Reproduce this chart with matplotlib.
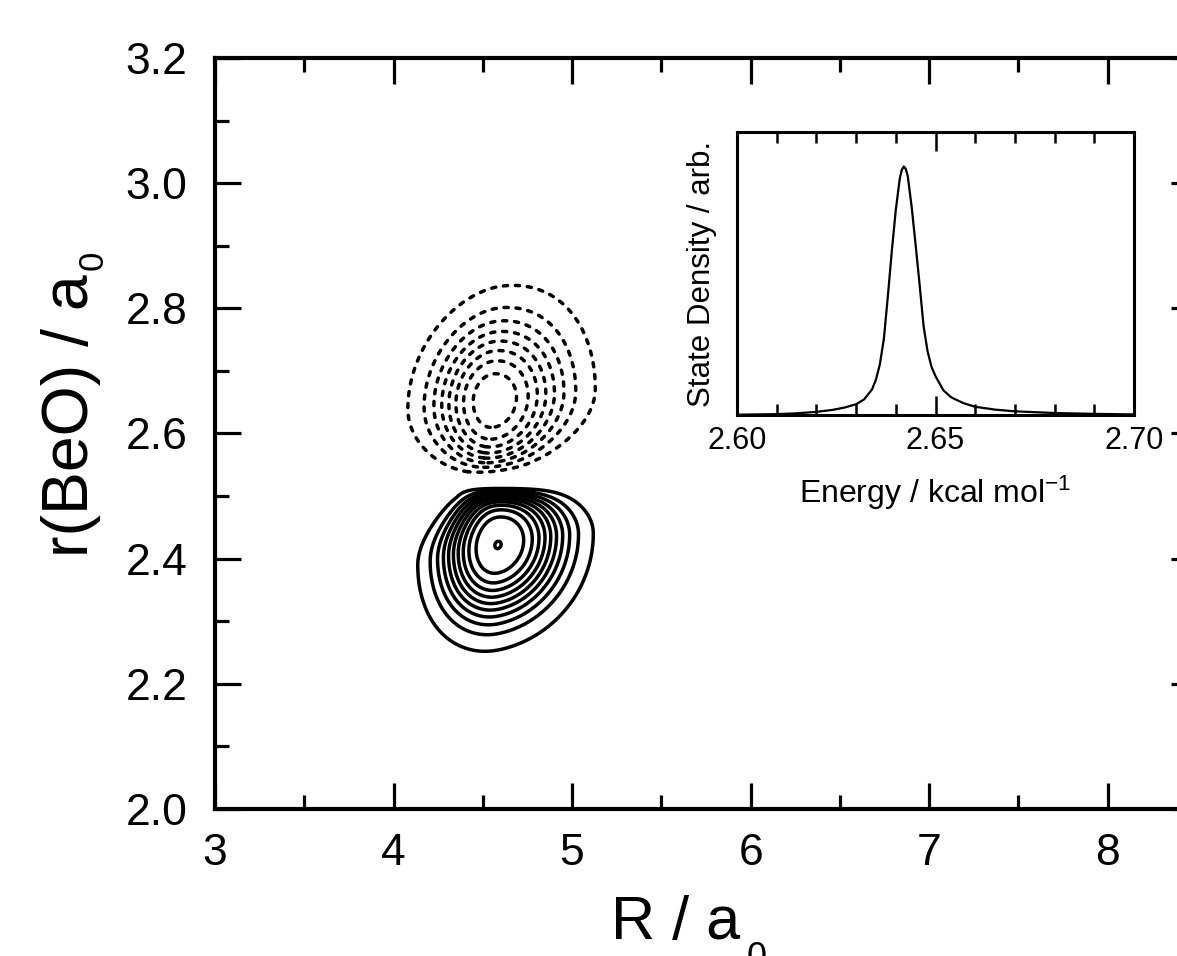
import numpy as np
import matplotlib
matplotlib.use("Agg")
import matplotlib.pyplot as plt
from matplotlib.ticker import MultipleLocator, FormatStrFormatter

plt.rcParams['font.family'] = ['Liberation Sans', 'DejaVu Sans']
plt.rcParams['mathtext.default'] = 'regular'
plt.rcParams['lines.scale_dashes'] = False

# state density of the resonance (inset)
energy = [2.600, 2.605, 2.610, 2.615, 2.620, 2.624, 2.627, 2.630, 2.632, 2.634,
          2.635, 2.636, 2.637, 2.638, 2.639, 2.640, 2.641, 2.6415, 2.642, 2.6425,
          2.643, 2.644, 2.645, 2.646, 2.647, 2.648, 2.649, 2.650, 2.652, 2.654,
          2.657, 2.660, 2.665, 2.670, 2.680, 2.690, 2.700]
density = [0.001, 0.002, 0.003, 0.006, 0.011, 0.018, 0.026, 0.038, 0.055, 0.090,
           0.125, 0.180, 0.270, 0.420, 0.580, 0.725, 0.835, 0.866, 0.878, 0.870,
           0.845, 0.735, 0.600, 0.460, 0.314, 0.225, 0.170, 0.137, 0.087, 0.062,
           0.042, 0.029, 0.019, 0.013, 0.007, 0.004, 0.002]

# wavefunction lobes: centre R, centre r, amplitude, widths (left, right, down, up),
# tilt, bend, taper towards node (up, down), shear of the upper half, profile power
pos_lobe = [4.584, 2.423, 0.991, 0.2255, 0.269, 0.085, 0.090, 0.055, -0.042, 0.35, 0.0, 0.0, 2.6]
neg_lobe = [4.556, 2.653, 0.78, 0.227, 0.274, 0.1025, 0.0863, 0.03, 0.0, 0.0, 0.30, 0.16, 2.3]
pos_node = [2.514, 0.0, 0.0]     # r = a + b (R - 4.55) + c (R - 4.55)^2
neg_node = [2.535, 0.03, 0.08]
pos_width = 0.022
neg_width = 0.035

pos_levels = [0.05, 0.144, 0.238, 0.332, 0.426, 0.52, 0.614, 0.708, 0.802, 0.896, 0.99]
neg_levels = [-0.708, -0.614, -0.52, -0.426, -0.332, -0.238, -0.144, -0.05]


def lobe(R, r, R0, r0, amp, sl, sr, sd, su, tilt, bend, tap_up, tap_dn, shear, p):
    dR = R - R0
    dr = r - r0 - tilt * dR - bend * dR ** 2
    dR = dR - shear * su * np.clip(dr / su, 0, None) ** 2
    sx = np.where(dR < 0, sl, sr)
    # lobe gets narrower on the side facing the node
    sx = sx * (1 - np.where(dr > 0, tap_up * np.clip(dr / su, 0, 1) ** 2,
                            tap_dn * np.clip(-dr / sd, 0, 1) ** 2))
    sy = np.where(dr < 0, sd, su)
    rho = np.sqrt((dR / sx) ** 2 + (dr / sy) ** 2)
    return amp * np.exp(-0.5 * rho ** p)


def node_line(R, a, b, c):
    return a + b * (R - 4.55) + c * (R - 4.55) ** 2


Rg, rg = np.meshgrid(np.linspace(3.7, 5.7, 900), np.linspace(2.12, 2.98, 900))
psi_pos = lobe(Rg, rg, *pos_lobe) * np.clip(
    np.tanh((node_line(Rg, *pos_node) - rg) / pos_width), 0, None)
psi_neg = lobe(Rg, rg, *neg_lobe) * np.clip(
    np.tanh((rg - node_line(Rg, *neg_node)) / neg_width), 0, None)
psi = psi_pos - psi_neg

fig = plt.figure(figsize=(11.77, 9.56), dpi=100)
ax = fig.add_axes([0.18267, 0.15377, 0.83432, 0.78556])

ax.contour(Rg, rg, psi, levels=pos_levels, colors='black', linewidths=2.5,
           linestyles='solid')
cs = ax.contour(Rg, rg, psi, levels=neg_levels, colors='black', linewidths=2.5)
cs.set_linestyle((0, (3.0, 5.6)))
cs.set_capstyle('round')

ax.set_xlim(3, 8.5)
ax.set_ylim(2.0, 3.2)
ax.xaxis.set_major_locator(MultipleLocator(1))
ax.xaxis.set_minor_locator(MultipleLocator(0.5))
ax.yaxis.set_major_locator(MultipleLocator(0.2))
ax.yaxis.set_minor_locator(MultipleLocator(0.1))
ax.yaxis.set_major_formatter(FormatStrFormatter('%.1f'))
ax.tick_params(which='both', direction='in', top=True, right=True, width=2.3,
               labelsize=32)
ax.tick_params(which='major', length=19)
ax.tick_params(which='minor', length=10)
ax.tick_params(axis='y', pad=20)
ax.tick_params(axis='x', pad=17)
for sp in ax.spines.values():
    sp.set_linewidth(3.0)

# axis labels with a low, separately sized subscript
ax.set_xlabel('R / a', fontsize=44)
ax.xaxis.set_label_coords(0.403, -0.1731)
ax.xaxis.label.set_ha('left')
ax.xaxis.label.set_va('baseline')
ax.text(0.5418, -0.2117, '0', fontsize=26, transform=ax.transAxes,
        ha='left', va='baseline', clip_on=False)

ax.set_ylabel('r(BeO) / a', fontsize=46.4)
ax.yaxis.set_label_coords(-0.129, 0.335)
ax.yaxis.label.set_ha('left')
ax.yaxis.label.set_va('baseline')
ax.text(-0.114, 0.7177, '0', fontsize=25, transform=ax.transAxes, rotation=90,
        rotation_mode='anchor', ha='left', va='baseline', clip_on=False)

# inset: state density
ins = fig.add_axes([0.62617, 0.56590, 0.33730, 0.29603])
ins.plot(energy, density, color='black', lw=1.6)
ins.set_xlim(2.60, 2.70)
ins.set_ylim(0, 1)
ins.xaxis.set_major_locator(MultipleLocator(0.05))
ins.xaxis.set_minor_locator(MultipleLocator(0.01))
ins.xaxis.set_major_formatter(FormatStrFormatter('%.2f'))
ins.set_yticks([])
ins.tick_params(which='both', direction='in', top=True, bottom=True, width=1.8,
                labelsize=22, pad=8)
ins.tick_params(which='major', length=14)
ins.tick_params(which='minor', length=8)
for sp in ins.spines.values():
    sp.set_linewidth(2.2)
ins.set_xlabel('Energy / kcal mol$^{-1}$', fontsize=23)
ins.xaxis.set_label_coords(0.5, -0.311)
ins.xaxis.label.set_va('baseline')
ins.set_ylabel('State Density / arb.', fontsize=22.5)
ins.yaxis.set_label_coords(-0.068, 0.5)
ins.yaxis.label.set_va('baseline')

fig.savefig('out.png', dpi=100)
